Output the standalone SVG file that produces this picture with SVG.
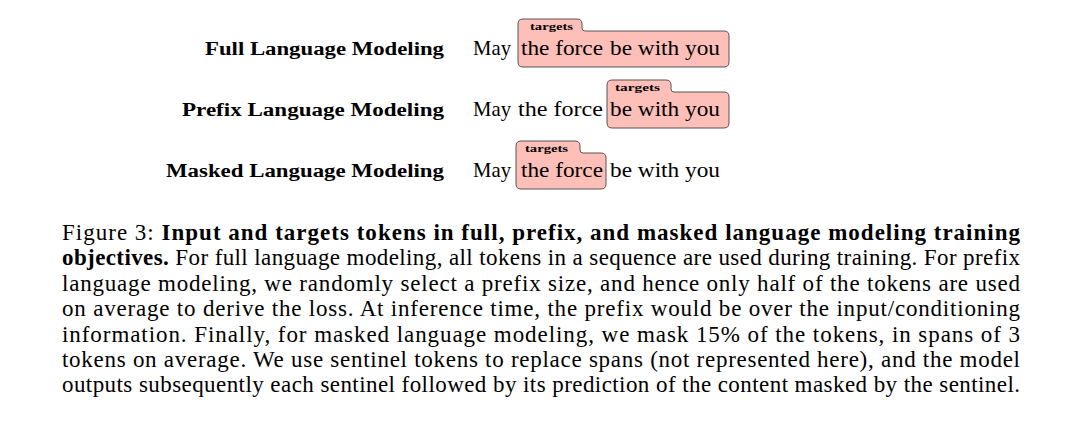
<svg xmlns="http://www.w3.org/2000/svg" width="1086" height="431" viewBox="0 0 1086 431">
<style>
.lbl{font-family:"Liberation Serif","DejaVu Serif",serif;font-weight:bold;font-size:18px;fill:#000;text-anchor:end}
.tok{font-family:"Liberation Serif","DejaVu Serif",serif;font-size:22px;fill:#000}
.tg{font-family:"Liberation Serif","DejaVu Serif",serif;font-weight:bold;font-size:10px;fill:#000}
.box{fill:#ffbfb9;stroke:#555;stroke-width:1}
.cap{font-family:"Liberation Serif","Times New Roman",serif;font-size:23px;fill:#000}
.b{font-weight:bold}
</style>
<rect width="1086" height="431" fill="#fff"/>
<g id="row-full">
<text class="lbl" x="444" y="55" textLength="239" lengthAdjust="spacingAndGlyphs">Full Language Modeling</text>
<path class="box" d="M518,24 Q518,19 523,19 L577,19 Q582,19 582,24 L582,28 Q582,31 585,31 L724,31 Q729,31 729,36 L729,62 Q729,67 724,67 L523,67 Q518,67 518,62 Z"/>
<text class="tg" x="530" y="30" textLength="43" lengthAdjust="spacingAndGlyphs">targets</text>
<text class="tok" x="473" y="55" textLength="38" lengthAdjust="spacingAndGlyphs">May</text>
<text class="tok" x="521" y="55" textLength="82" lengthAdjust="spacingAndGlyphs">the force</text>
<text class="tok" x="610" y="55" textLength="110" lengthAdjust="spacingAndGlyphs">be with you</text>
</g>
<g id="row-prefix">
<text class="lbl" x="444" y="116" textLength="262" lengthAdjust="spacingAndGlyphs">Prefix Language Modeling</text>
<path class="box" d="M607,85 Q607,80 612,80 L666,80 Q671,80 671,85 L671,89 Q671,92 674,92 L724,92 Q729,92 729,97 L729,123 Q729,128 724,128 L612,128 Q607,128 607,123 Z"/>
<text class="tg" x="615" y="91" textLength="45" lengthAdjust="spacingAndGlyphs">targets</text>
<text class="tok" x="473" y="116" textLength="38" lengthAdjust="spacingAndGlyphs">May</text>
<text class="tok" x="518" y="116" textLength="85" lengthAdjust="spacingAndGlyphs">the force</text>
<text class="tok" x="610" y="116" textLength="110" lengthAdjust="spacingAndGlyphs">be with you</text>
</g>
<g id="row-masked">
<text class="lbl" x="444" y="177" textLength="278" lengthAdjust="spacingAndGlyphs">Masked Language Modeling</text>
<path class="box" d="M516,146 Q516,141 521,141 L575,141 Q580,141 580,146 L580,150 Q580,153 583,153 L601,153 Q606,153 606,158 L606,184 Q606,189 601,189 L521,189 Q516,189 516,184 Z"/>
<text class="tg" x="525" y="152" textLength="43" lengthAdjust="spacingAndGlyphs">targets</text>
<text class="tok" x="473" y="177" textLength="38" lengthAdjust="spacingAndGlyphs">May</text>
<text class="tok" x="521" y="177" textLength="82" lengthAdjust="spacingAndGlyphs">the force</text>
<text class="tok" x="610" y="177" textLength="110" lengthAdjust="spacingAndGlyphs">be with you</text>
</g>
<g id="connectors"/>
<g id="caption" class="cap">
<text x="62" y="240" textLength="958" lengthAdjust="spacing">Figure 3:  <tspan class="b">Input and targets tokens in full, prefix, and masked language modeling training</tspan></text>
<text x="62" y="265.4" textLength="958" lengthAdjust="spacing"><tspan class="b">objectives.</tspan> For full language modeling, all tokens in a sequence are used during training. For prefix</text>
<text x="62" y="290.8" textLength="958" lengthAdjust="spacing">language modeling, we randomly select a prefix size, and hence only half of the tokens are used</text>
<text x="62" y="316.2" textLength="958" lengthAdjust="spacing">on average to derive the loss.  At inference time, the prefix would be over the input/conditioning</text>
<text x="62" y="341.6" textLength="958" lengthAdjust="spacing">information.  Finally, for masked language modeling, we mask 15% of the tokens, in spans of 3</text>
<text x="62" y="367" textLength="958" lengthAdjust="spacing">tokens on average.  We use sentinel tokens to replace spans (not represented here), and the model</text>
<text x="62" y="392.4" textLength="958" lengthAdjust="spacing">outputs subsequently each sentinel followed by its prediction of the content masked by the sentinel.</text>
</g>
</svg>
